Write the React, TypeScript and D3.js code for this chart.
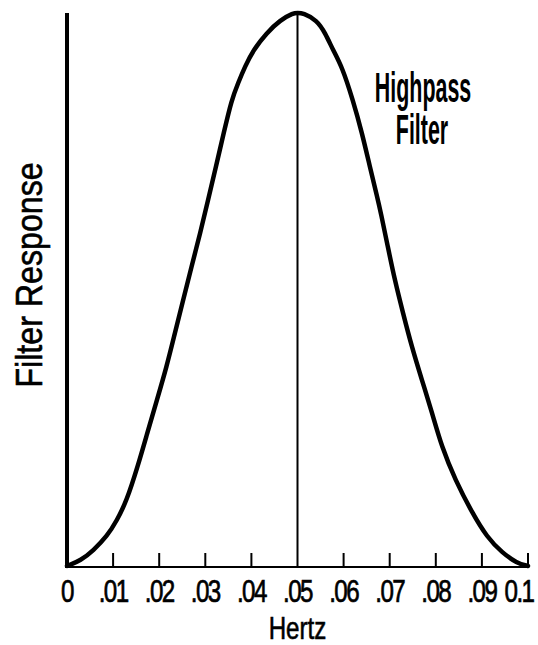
import React, { useRef, useEffect } from 'react';
import * as d3 from 'd3';

// curve (x in Hertz, y as fraction of peak)
const hertz = [
  0, 0.003, 0.0057, 0.0087, 0.0108, 0.0129, 0.0153, 0.0174, 0.0195, 0.0216,
  0.0234, 0.0252, 0.027, 0.0289, 0.0306, 0.0323, 0.034, 0.0357, 0.0371, 0.0386,
  0.0404, 0.0433, 0.0462, 0.0491, 0.05, 0.0512, 0.0542, 0.056, 0.0577, 0.0597,
  0.062, 0.064, 0.0657, 0.0673, 0.0681, 0.0696, 0.0711, 0.0729, 0.0748, 0.077,
  0.0792, 0.0813, 0.0842, 0.0879, 0.0911, 0.0944, 0.0976, 0.1,
];
const response = [
  0, 0.01, 0.028, 0.054, 0.082, 0.117, 0.179, 0.24, 0.3, 0.36,
  0.421, 0.481, 0.541, 0.602, 0.662, 0.722, 0.783, 0.843, 0.873, 0.903,
  0.933, 0.964, 0.987, 1.0, 1.0, 1.0, 0.987, 0.964, 0.933, 0.902,
  0.843, 0.783, 0.722, 0.667, 0.638, 0.577, 0.517, 0.457, 0.396, 0.336,
  0.277, 0.215, 0.156, 0.096, 0.052, 0.024, 0.005, 0,
];

const tickValues = [0, 0.01, 0.02, 0.03, 0.04, 0.05, 0.06, 0.07, 0.08, 0.09, 0.1];
const tickLabels = ['0', '.01', '.02', '.03', '.04', '.05', '.06', '.07', '.08', '.09', '0.1'];

const width = 538;
const height = 645;
const margin = { top: 13, right: 10, bottom: 79, left: 67 };

export default function App() {
  const ref = useRef<SVGSVGElement>(null);

  useEffect(() => {
    const svg = d3.select(ref.current);
    svg.selectAll('*').remove();

    const x = d3.scaleLinear().domain([0, 0.1]).range([margin.left, 528]);
    const y = d3.scaleLinear().domain([0, 1]).range([height - margin.bottom, margin.top]);
    const font = 'Liberation Sans, Arial, sans-serif';

    const data = hertz.map((h, i) => ({ h, r: response[i] }));

    // bottom axis line
    svg.append('line')
      .attr('x1', x(0)).attr('x2', x(0.1))
      .attr('y1', y(0) + 1).attr('y2', y(0) + 1)
      .attr('stroke', '#000').attr('stroke-width', 2);

    // small upward ticks
    svg.append('g')
      .selectAll('line')
      .data(tickValues.filter(t => t !== 0 && t !== 0.05))
      .join('line')
        .attr('x1', d => x(d)).attr('x2', d => x(d))
        .attr('y1', y(0) + 1).attr('y2', y(0) - 13)
        .attr('stroke', '#000').attr('stroke-width', 2);

    // left axis
    svg.append('line')
      .attr('x1', x(0)).attr('x2', x(0))
      .attr('y1', y(1)).attr('y2', y(0) + 2)
      .attr('stroke', '#000').attr('stroke-width', 4);

    // centre line at .05
    svg.append('line')
      .attr('x1', x(0.05)).attr('x2', x(0.05))
      .attr('y1', y(1)).attr('y2', y(0) + 1)
      .attr('stroke', '#000').attr('stroke-width', 2);

    const line = d3.line<{ h: number; r: number }>()
      .x(d => x(d.h))
      .y(d => y(d.r))
      .curve(d3.curveBasis);

    svg.append('path')
      .datum(data)
      .attr('d', line)
      .attr('fill', 'none')
      .attr('stroke', '#000')
      .attr('stroke-width', 4.5)
      .attr('stroke-linecap', 'round');

    // tick labels, condensed like the original lettering
    svg.append('g')
      .selectAll('text')
      .data(tickValues)
      .join('text')
        .attr('transform', d => {
          const cx = Math.min(x(d), width - 19);
          return `translate(${cx},602) scale(0.78,1)`;
        })
        .attr('text-anchor', 'middle')
        .attr('font-family', font)
        .attr('font-size', 31)
        .attr('letter-spacing', -2)
        .attr('stroke', '#000')
        .attr('stroke-width', 0.7)
        .text((d, i) => tickLabels[i]);

    svg.append('text')
      .attr('transform', `translate(${x(0.05)},639) scale(0.78,1)`)
      .attr('text-anchor', 'middle')
      .attr('font-family', font)
      .attr('font-size', 31)
      .attr('stroke', '#000')
      .attr('stroke-width', 0.6)
      .text('Hertz');

    svg.append('text')
      .attr('transform', 'translate(42,275) rotate(-90) scale(0.87,1)')
      .attr('text-anchor', 'middle')
      .attr('font-family', font)
      .attr('font-size', 37)
      .attr('stroke', '#000')
      .attr('stroke-width', 0.6)
      .text('Filter Response');

    svg.append('text')
      .attr('transform', 'translate(423,102) scale(0.51,1)')
      .attr('text-anchor', 'middle')
      .attr('font-family', font)
      .attr('font-weight', 'bold')
      .attr('font-size', 42)
      .text('Highpass');

    svg.append('text')
      .attr('transform', 'translate(422,144) scale(0.51,1)')
      .attr('text-anchor', 'middle')
      .attr('font-family', font)
      .attr('font-weight', 'bold')
      .attr('font-size', 42)
      .text('Filter');
  }, []);

  return (
    <svg
      ref={ref}
      width={width}
      height={height}
      style={{ position: 'absolute', left: 0, top: 0, background: '#fff' }}
    />
  );
}
